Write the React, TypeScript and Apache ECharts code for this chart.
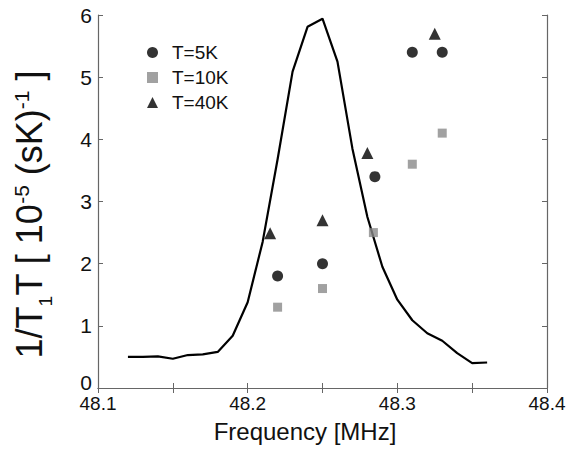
import React, { useEffect, useRef } from "react";
import * as echarts from "echarts";

const lineFreq = [48.12, 48.13, 48.14, 48.15, 48.16, 48.17, 48.18, 48.19, 48.2, 48.21, 48.22, 48.23, 48.24, 48.25, 48.26, 48.27, 48.28, 48.29, 48.3, 48.31, 48.32, 48.33, 48.34, 48.35, 48.36];
const lineValues = [0.5, 0.5, 0.51, 0.47, 0.53, 0.54, 0.58, 0.84, 1.38, 2.35, 3.68, 5.09, 5.81, 5.94, 5.25, 3.85, 2.75, 1.95, 1.42, 1.09, 0.88, 0.76, 0.56, 0.4, 0.41];

const t5Freq = [48.22, 48.25, 48.285, 48.31, 48.33];
const t5Values = [1.8, 2.0, 3.4, 5.4, 5.4];
const t10Freq = [48.22, 48.25, 48.284, 48.31, 48.33];
const t10Values = [1.3, 1.6, 2.5, 3.6, 4.1];
const t40Freq = [48.215, 48.25, 48.28, 48.325];
const t40Values = [2.49, 2.7, 3.78, 5.7];

const seriesNames = ["T=5K", "T=10K", "T=40K"];
const xTickLabels = ["48.1", "48.2", "48.3", "48.4"];
const yTickLabels = ["0", "1", "2", "3", "4", "5", "6"];

const zip = (xs: number[], ys: number[]) => xs.map((x, i) => [x, ys[i]]);

const FONT = "'Liberation Sans', Arial, Helvetica, sans-serif";
const AXIS_COLOR = "#666";

export default function App() {
  const ref = useRef<HTMLDivElement>(null);
  useEffect(() => {
    if (!ref.current) return;
    const chart = echarts.init(ref.current, undefined, { renderer: "svg" });
    const tickStyle = { show: true, inside: true, length: 5, lineStyle: { color: AXIS_COLOR, width: 1 } };
    const lineStyleAxis = { show: true, lineStyle: { color: AXIS_COLOR, width: 1.2 } };
    chart.setOption({
      animation: false,
      backgroundColor: "#fff",
      textStyle: { fontFamily: FONT },
      grid: { left: 98, right: 24, top: 15, bottom: 61, containLabel: false, outerBoundsMode: "none" },
      legend: {
        data: seriesNames,
        orient: "vertical",
        left: 142,
        top: 38,
        itemWidth: 11,
        itemHeight: 11,
        itemGap: 6,
        textStyle: { fontSize: 19, color: "#111", fontFamily: FONT, padding: [0, 0, 0, 9] },
      },
      xAxis: [
        {
          type: "value",
          min: 48.1,
          max: 48.4,
          interval: 0.1,
          axisLine: lineStyleAxis,
          axisTick: tickStyle,
          minorTick: { show: true, splitNumber: 2, length: 5, lineStyle: { color: AXIS_COLOR } },
          splitLine: { show: false },
          axisLabel: {
            fontSize: 19,
            color: "#111",
            margin: 6,
            fontFamily: FONT,
            formatter: (v: number) => {
              const s = v.toFixed(1);
              return xTickLabels.includes(s) ? s : "";
            },
          },
          name: "Frequency [MHz]",
          nameLocation: "middle",
          nameGap: 31,
          nameTextStyle: { fontSize: 24, color: "#111", fontFamily: FONT, padding: [0, 35, 0, 0] },
        },
        {
          type: "value",
          position: "top",
          min: 48.1,
          max: 48.4,
          interval: 0.1,
          axisLine: lineStyleAxis,
          axisTick: tickStyle,
          minorTick: { show: true, splitNumber: 2, length: 5, lineStyle: { color: AXIS_COLOR } },
          splitLine: { show: false },
          axisLabel: { show: false },
        },
      ],
      yAxis: [
        {
          type: "value",
          min: 0,
          max: 6,
          interval: 1,
          axisLine: lineStyleAxis,
          axisTick: tickStyle,
          splitLine: { show: false },
          axisLabel: {
            fontSize: 21,
            color: "#111",
            margin: 6,
            fontFamily: FONT,
            formatter: (v: number) => {
              const s = String(Math.round(v));
              if (!yTickLabels.includes(s)) return "";
              return s === "0" ? "{z|0}" : s;
            },
            rich: { z: { fontSize: 21, color: "#111", fontFamily: FONT, padding: [0, 0, 12, 0] } },
          },
          name: "1/T{sub|1}T [ 10{sup|-5} (sK){sup|-1} ]",
          nameLocation: "middle",
          nameGap: 51,
          nameTextStyle: {
            fontSize: 36,
            color: "#111",
            fontFamily: FONT,
            padding: [0, 26, 0, 0],
            rich: {
              sub: { fontSize: 19, lineHeight: 3, padding: [33, 0, 0, 0], color: "#111", fontFamily: FONT, verticalAlign: "middle" },
              sup: { fontSize: 21, color: "#111", fontFamily: FONT, verticalAlign: "top" },
            },
          },
        },
        {
          type: "value",
          position: "right",
          min: 0,
          max: 6,
          interval: 1,
          axisLine: lineStyleAxis,
          axisTick: tickStyle,
          splitLine: { show: false },
          axisLabel: { show: false },
        },
      ],
      series: [
        {
          name: "profile",
          type: "line",
          data: zip(lineFreq, lineValues),
          symbol: "none",
          lineStyle: { color: "#000", width: 2.2 },
          z: 1,
        },
        {
          name: seriesNames[0],
          type: "scatter",
          data: zip(t5Freq, t5Values),
          symbol: "circle",
          symbolSize: 11,
          itemStyle: { color: "#000" },
          z: 3,
        },
        {
          name: seriesNames[1],
          type: "scatter",
          data: zip(t10Freq, t10Values),
          symbol: "rect",
          symbolSize: 9,
          itemStyle: { color: "#8a8a8a" },
          z: 3,
        },
        {
          name: seriesNames[2],
          type: "scatter",
          data: zip(t40Freq, t40Values),
          symbol: "triangle",
          symbolSize: 12,
          itemStyle: { color: "#000" },
          z: 3,
        },
      ],
    });
    return () => chart.dispose();
  }, []);
  return <div ref={ref} style={{ position: "fixed", left: 0, top: 0, width: 571, height: 449, background: "#fff" }} />;
}
